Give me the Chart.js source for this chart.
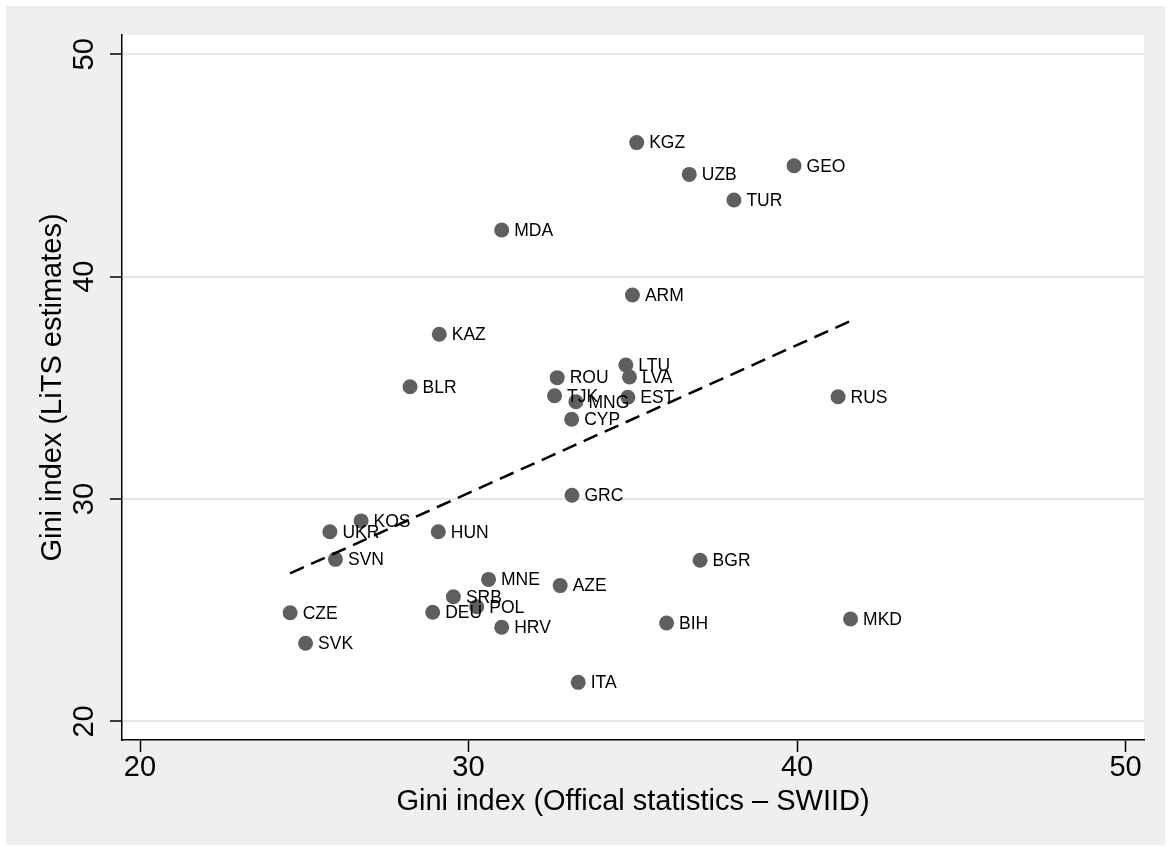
<!DOCTYPE html>
<html><head><meta charset="utf-8">
<script src="https://cdn.jsdelivr.net/npm/chart.js@4/dist/chart.umd.min.js"></script>
<style>html,body{margin:0;padding:0;background:#fff;} canvas{display:block;}</style>
</head><body>
<canvas id="c" width="1171" height="852"></canvas>
<script>
const countries = ['KGZ','UZB','GEO','TUR','MDA','ARM','KAZ','BLR','ROU','TJK','MNG','CYP','LTU','LVA','EST','RUS','GRC','KOS','UKR','HUN','SVN','BGR','MNE','AZE','SRB','POL','DEU','CZE','HRV','BIH','MKD','SVK','ITA'];
const giniSWIID = [35.12,36.72,39.91,38.08,31.01,34.99,29.11,28.22,32.70,32.62,33.27,33.14,34.79,34.90,34.85,41.25,33.15,26.73,25.78,29.08,25.95,37.05,30.61,32.79,29.54,30.25,28.91,24.57,31.01,36.03,41.63,25.04,33.34];
const giniLiTS  = [46.03,44.60,44.99,43.45,42.10,39.18,37.41,35.05,35.46,34.65,34.38,33.59,36.03,35.49,34.58,34.60,30.17,29.02,28.53,28.53,27.29,27.25,26.39,26.11,25.61,25.16,24.91,24.89,24.24,24.43,24.61,23.52,21.76];
const fitX = [24.57, 41.63];
const fitY = [26.66, 38.01];
const xTicks = [20, 30, 40, 50];
const yTicks = [20, 30, 40, 50];
const xTitle = 'Gini index (Offical statistics – SWIID)';
const yTitle = 'Gini index (LiTS estimates)';

const FONT = '"Liberation Sans", Arial, Helvetica, sans-serif';

const bgPlugin = {
  id: 'bg',
  beforeDraw(chart) {
    const ctx = chart.ctx, ca = chart.chartArea;
    ctx.save();
    ctx.fillStyle = '#ffffff';
    ctx.fillRect(0, 0, chart.width, chart.height);
    ctx.fillStyle = '#efefef';
    ctx.fillRect(6, 6, 1159, 839);
    ctx.fillStyle = '#ffffff';
    ctx.fillRect(ca.left, ca.top, ca.right - ca.left, ca.bottom - ca.top);
    ctx.restore();
  }
};

const labelPlugin = {
  id: 'ptlabels',
  afterDatasetsDraw(chart) {
    const meta = chart.getDatasetMeta(1);
    const ctx = chart.ctx;
    ctx.save();
    ctx.font = '17.5px ' + FONT;
    ctx.fillStyle = '#000';
    ctx.textBaseline = 'middle';
    ctx.textAlign = 'left';
    meta.data.forEach((pt, i) => {
      ctx.fillText(countries[i], pt.x + 12.5, pt.y + 1);
    });
    ctx.restore();
  }
};

new Chart(document.getElementById('c'), {
  type: 'scatter',
  data: {
    datasets: [
      {
        label: 'Fitted values',
        data: fitX.map((x, i) => ({x: x, y: fitY[i]})),
        showLine: true,
        borderColor: '#000',
        borderWidth: 2.5,
        borderDash: [15, 8],
        pointRadius: 0,
        fill: false
      },
      {
        label: 'Gini',
        data: giniSWIID.map((x, i) => ({x: x, y: giniLiTS[i]})),
        pointRadius: 7.5,
        pointBackgroundColor: '#5f5f5f',
        pointBorderWidth: 0,
        pointHoverRadius: 7.5
      }
    ]
  },
  options: {
    responsive: false,
    animation: false,
    devicePixelRatio: 1,
    events: [],
    layout: {padding: {left: 0, top: 35, right: 27, bottom: 0}},
    plugins: {legend: {display: false}, tooltip: {enabled: false}},
    scales: {
      x: {
        type: 'linear',
        position: 'bottom',
        min: 19.452,
        max: 50.563,
        afterBuildTicks(s) { s.ticks = xTicks.map(v => ({value: v})); },
        afterFit(s) { s.height = 112; },
        ticks: {
          color: '#000',
          font: {family: FONT, size: 29, lineHeight: 1},
          padding: 1,
          callback: v => String(v)
        },
        grid: {drawOnChartArea: false, drawTicks: true, tickLength: 12, tickColor: '#000', tickWidth: 1.5},
        border: {display: true, color: '#000', width: 1.5},
        title: {display: true, text: xTitle, color: '#000', font: {family: FONT, size: 29}, padding: {top: 0, bottom: 33}}
      },
      y: {
        type: 'linear',
        position: 'left',
        min: 19.168,
        max: 50.868,
        afterBuildTicks(s) { s.ticks = yTicks.map(v => ({value: v})); },
        afterFit(s) { s.width = 122; },
        ticks: {
          color: '#000',
          font: {family: FONT, size: 29, lineHeight: 1},
          minRotation: 90,
          maxRotation: 90,
          crossAlign: 'center',
          padding: 9,
          callback: v => String(v)
        },
        grid: {color: '#e6e6e6', lineWidth: 2, drawTicks: true, tickLength: 12, tickColor: '#000', tickWidth: 1.5},
        border: {display: true, color: '#000', width: 1.5},
        title: {display: true, text: yTitle, color: '#000', font: {family: FONT, size: 29}, padding: {top: 36, bottom: 0}}
      }
    }
  },
  plugins: [bgPlugin, labelPlugin]
});
</script>
</body></html>
